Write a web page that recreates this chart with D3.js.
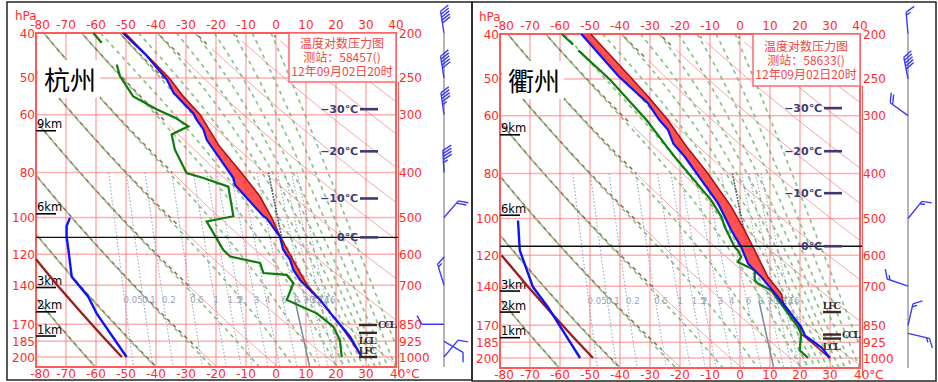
<!DOCTYPE html>
<html>
<head>
<meta charset="utf-8">
<script src="https://cdn.jsdelivr.net/npm/d3@7"></script>
<style>
  body { margin: 0; background: #fff; }
  svg { display: block; }
</style>
</head>
<body>
<svg id="chart" width="938" height="382"></svg>
<script>
// ---- axes ----
const tempTicks = [-80, -70, -60, -50, -40, -30, -20, -10, 0, 10, 20, 30, 40];
const pressLevels = [200, 250, 300, 400, 500, 600, 700, 850, 925, 1000];
const pressLeftLabels = ["40", "50", "60", "80", "100", "120", "140", "170", "185", "200"];
const mixRatios = [0.05, 0.1, 0.2, 0.5, 1, 1.5, 2, 3, 4, 6, 8, 10, 12, 14, 16];
const heightNames = ["9km", "6km", "3km", "2km", "1km"];
const isoNames = [-30, -20, -10, 0];

// ---- 杭州 58457 : [hPa, °C] ----
const hzTemp = [[200,-51],[224,-43.1],[252,-36.4],[269,-34.2],[298,-27.6],[308,-26.4],[323,-24.2],[340,-23.1],
  [411,-14.2],[425,-13.7],[497,-4.2],[502,-3.1],[550,1.3],[587,2.4],[617,4.7],[649,5.8],[682,8],[717,11.3],
  [753,14.7],[818,19.1],[904,24.7],[1000,28.6]];
const hzParcel = [[200,-50.3],[250,-35.6],[274,-30.9],[300,-25.3],[350,-19.0],[400,-11.6],[450,-5.4],[500,-1.5],
  [550,1.4],[600,4.6],[650,7.6],[700,10.4],[753,14.8],[800,17.8],[850,21.2],[925,25.2],[1000,28.6]];
const hzDew = [[200,-60.9],[210,-58.1],[222,null],[234,-53.1],[248,-52],[274,-47.6],[292,-39.8],[305,-33.5],
  [318,-29.2],[331,-34.8],[357,-33.7],[401,-29.8],[411,-24.2],[429,-15.9],[497,-14.2],[510,-23.1],[587,-17.6],
  [607,-15.3],[627,-5.3],[659,-4.2],[665,3.6],[693,5.8],[753,3.6],[805,13.6],[860,19.1],[919,21.3],[1000,21.9]];
const hzLeftBlue = [[501,-68.7],[522,-69.8],[550,-69.8],[587,-69.2],[671,-68.1],[741,-62.6],[805,-59.8],[1000,-49.8]];
const hzLeftRed = [[615,-80],[700,-72.9],[800,-65.1],[900,-58],[1000,-51.4]];
const hzHeightP = [325, 491, 708, 799, 901];
const hzIsoP = [292, 360, 455, 552];
const hzCapeBottom = 753;
const hzLevels = { CCL: 853, LCL: 887, LFC: 1000 };
const hzWindP = [200, 250, 300, 400, 500, 700, 850, 925, 1000];
const hzWindDir = [351, 351, 352, 357, 41, 343, 270, 120, 40];
const hzWindSpd = [20, 20, 18, 18, 8, 6, 4, 4, 4];

// ---- 衢州 58633 ----
const qzTemp = [[200,-52.9],[247,-40.4],[282,-30.7],[307,-26.8],[322,-24],[345,-22.2],[368,-18.4],[464,-7.3],
  [496,-5.1],[530,-2.9],[576,0.4],[626,2.7],[658,6],[669,7.1],[739,12.7],[760,14.1],[858,20.4],[894,21.6],
  [948,27.1],[1000,30]];
const qzParcel = [[200,-49.8],[247,-36.7],[276,-30],[307,-24],[350,-17.8],[400,-10.7],[472,-2.9],[530,1.5],
  [586,4.9],[669,9.3],[727,13.8],[760,14.4],[800,16.8],[858,20.0],[887,20.4],[925,23.9],[1000,29.8]];
const qzDew = [[200,-59.4],[211,-55.6],[214,null],[217,-53.9],[251,-43.3],[307,-31.1],[350,-24.4],[368,-21.8],
  [457,-9.6],[496,-6.2],[521,-5.1],[576,-1.8],[586,-0.7],[605,0.4],[621,-0.7],[636,2.7],[647,4.9],[680,4.9],
  [691,6],[715,10.4],[858,19.3],[887,20.4],[963,19.9],[1000,22.7]];
const qzLeftBlue = [[505,-74],[586,-73.4],[703,-69],[777,-64],[1000,-53.3]];
const qzLeftRed = [[600,-79.5],[700,-70.8],[800,-62.9],[900,-55.7],[1000,-49]];
const qzHeightP = [330, 492, 717, 796, 904];
const qzIsoP = [289, 358, 441, 574];
const qzCapeBottom = 760;
const qzLevels = { LFC: 796, CCL: 890, LCL: 908 };
const qzWindP = [200, 250, 300, 500, 700, 850, 885];
const qzWindDir = [355, 349, 306, 39, 289, 13, 103];
const qzWindSpd = [6, 20, 8, 6, 6, 6, 6];

const stations = [
  { name: "杭州", code: "58457", dx: 0, dy: 0, boxH: 49, temp: hzTemp, parcel: hzParcel, dew: hzDew,
    leftBlue: hzLeftBlue, leftRed: hzLeftRed, heights: hzHeightP, iso: hzIsoP, capeBottom: hzCapeBottom,
    levels: hzLevels, windP: hzWindP, windDir: hzWindDir, windSpd: hzWindSpd },
  { name: "衢州", code: "58633", dx: 464, dy: 1, boxH: 52, temp: qzTemp, parcel: qzParcel, dew: qzDew,
    leftBlue: qzLeftBlue, leftRed: qzLeftRed, heights: qzHeightP, iso: qzIsoP, capeBottom: qzCapeBottom,
    levels: qzLevels, windP: qzWindP, windDir: qzWindDir, windSpd: qzWindSpd }
];

const svg = d3.select("#chart");
const x = d3.scaleLinear().domain([-80, 40]).range([36, 396]);
const y = d3.scaleLog().domain([200, 1000]).range([33, 357]);
const plotTop = 33, plotBottom = 367;
const pBottom = y.invert(plotBottom);
const pSteps = d3.range(200, pBottom, 4).concat([pBottom]);

const RED = "#ff2b2b";
const sans = "'DejaVu Sans', Verdana, sans-serif";
const cjk = "'Noto Sans CJK SC', sans-serif";

// diagram background families (potential temperature at 200 hPa, K)
const dryThetas = d3.range(190, 521, 20);
const moistThetas = d3.range(190, 331, 20).concat(d3.range(340, 431, 10));

function satVap(tc) { return 6.112 * Math.exp(17.67 * tc / (tc + 243.5)); }
function moistLapse(p, T) {
  const es = satVap(T - 273.15);
  const rs = 0.622 * es / (p - es);
  return (287.04 * T + 2.501e6 * rs) / (p * (1005.7 + (2.501e6 * 2.501e6 * rs * 0.622) / (287.04 * T * T)));
}
function moistPath(th) {
  let T = th * Math.pow(0.2, 0.2857);
  const out = [[pSteps[0], T - 273.15]];
  for (let i = 1; i < pSteps.length; i++) {
    const p0 = pSteps[i - 1], dp = pSteps[i] - p0;
    const k1 = moistLapse(p0, T);
    const k2 = moistLapse(p0 + dp, T + k1 * dp);
    T += 0.5 * (k1 + k2) * dp;
    out.push([pSteps[i], T - 273.15]);
  }
  return out;
}
function tempForMix(w, p) {
  const e = w * p / (622 + w);
  const l = Math.log(e / 6.112);
  return 243.5 * l / (17.67 - l);
}

// outer frames
svg.append("rect").attr("x", 7).attr("y", 2).attr("width", 465).attr("height", 378)
  .attr("fill", "none").attr("stroke", "#222").attr("stroke-width", 1.5);
svg.append("rect").attr("x", 472).attr("y", 2).attr("width", 464).attr("height", 379)
  .attr("fill", "none").attr("stroke", "#222").attr("stroke-width", 1.5);

const line = d3.line().defined(d => d[1] !== null).x(d => x(d[1])).y(d => y(d[0]));

stations.forEach((st, si) => {
  const g = svg.append("g").attr("transform", `translate(${st.dx},${st.dy})`);
  const clipId = `clip${si}`;
  g.append("clipPath").attr("id", clipId).append("rect")
    .attr("x", x(-80)).attr("y", plotTop).attr("width", x(40) - x(-80)).attr("height", plotBottom - plotTop);
  const bg = g.append("g").attr("clip-path", `url(#${clipId})`);

  // isotherms and isobars
  bg.selectAll(".iso").data(tempTicks.slice(1, -1)).join("line")
    .attr("x1", d => x(d)).attr("x2", d => x(d)).attr("y1", plotTop).attr("y2", plotBottom)
    .attr("stroke", "#ff7a7a").attr("stroke-opacity", 0.6).attr("stroke-width", 1.5);
  bg.selectAll(".isob").data(pressLevels).join("line")
    .attr("x1", x(-80)).attr("x2", x(40)).attr("y1", d => y(d)).attr("y2", d => y(d))
    .attr("stroke", "#ff7a7a").attr("stroke-opacity", 0.6).attr("stroke-width", 1.5);

  // dry adiabats: brownish where they coincide with the moist adiabat, thin red elsewhere
  dryThetas.forEach(th => {
    const moist = moistPath(th);
    const pts = pSteps.map((p, i) => {
      const t = th * Math.pow(p / 1000, 0.2857) - 273.15;
      return [p, t, Math.abs(moist[i][1] - t) < 1.2];
    });
    bg.append("path").attr("d", d3.line().defined(d => !d[2]).x(d => x(d[1])).y(d => y(d[0]))(pts))
      .attr("fill", "none").attr("stroke", "#e86a6a").attr("stroke-width", 0.8).attr("stroke-opacity", 0.75);
    bg.append("path").attr("d", d3.line().defined(d => d[2]).x(d => x(d[1])).y(d => y(d[0]))(pts))
      .attr("fill", "none").attr("stroke", "#7f5f3c").attr("stroke-width", 1.7).attr("stroke-opacity", 0.85)
      .attr("stroke-dasharray", "4,4").attr("stroke-dashoffset", 4);
  });

  // moist adiabats
  moistThetas.forEach(th => {
    bg.append("path").attr("d", line(moistPath(th))).attr("fill", "none")
      .attr("stroke", "#6fb46f").attr("stroke-width", 1.7).attr("stroke-opacity", 0.8)
      .attr("stroke-dasharray", "4,4");
  });

  // mixing ratio lines
  mixRatios.forEach(w => {
    const pts = pSteps.filter(p => p >= 400).map(p => [p, tempForMix(w, p)]);
    bg.append("path").attr("d", line(pts)).attr("fill", "none")
      .attr("stroke", "#8a9ab5").attr("stroke-width", 1).attr("stroke-dasharray", "1.5,2");
    g.append("text").attr("x", x(tempForMix(w, 750)) - 1).attr("y", y(750) + 4)
      .attr("font-family", sans).attr("font-size", 8.5).attr("fill", "#9aa4b8").text(w);
  });
  // highlighted 8 g/kg line: dark dotted aloft, solid grey below 750 hPa
  bg.append("path").attr("d", line(pSteps.filter(p => p >= 400 && p <= 560).map(p => [p, tempForMix(8, p)])))
    .attr("fill", "none").attr("stroke", "#3f4f66").attr("stroke-width", 1.6).attr("stroke-dasharray", "1.5,1.5");
  bg.append("path").attr("d", line(pSteps.filter(p => p >= 755).map(p => [p, tempForMix(8, p)])))
    .attr("fill", "none").attr("stroke", "#7d8a9c").attr("stroke-width", 1.5);

  // plot frame
  g.append("rect").attr("x", x(-80)).attr("y", plotTop).attr("width", x(40) - x(-80))
    .attr("height", plotBottom - plotTop).attr("fill", "none").attr("stroke", "#ff5a5a").attr("stroke-width", 2);
  g.append("line").attr("x1", x(40) + 2.5).attr("x2", x(40) + 2.5).attr("y1", plotTop + st.boxH)
    .attr("y2", plotBottom + 8).attr("stroke", "#ff5a5a").attr("stroke-width", 1);

  // axis labels
  const lbl = g.append("g").attr("font-family", sans).attr("font-size", 12).attr("fill", RED);
  lbl.selectAll(".tt").data(tempTicks).join("text")
    .attr("x", d => Math.max(x(d), 40)).attr("y", 29).attr("text-anchor", "middle").text(d => d);
  lbl.selectAll(".tb").data(tempTicks).join("text")
    .attr("x", d => d === 40 ? x(d) - 6 : Math.max(x(d), 40)).attr("y", 378)
    .attr("text-anchor", d => d === 40 ? "start" : "middle").text(d => d === 40 ? "40°C" : d);
  lbl.append("text").attr("x", 15).attr("y", 20).text("hPa");
  lbl.selectAll(".pl").data(pressLevels).join("text")
    .attr("x", 35).attr("y", d => y(d) + 4.5).attr("text-anchor", "end").text((d, i) => pressLeftLabels[i]);
  lbl.selectAll(".pr").data(pressLevels).join("text")
    .attr("x", 399).attr("y", d => y(d) + 4.5).text(d => d);

  // station name
  g.append("rect").attr("x", 38).attr("y", 60).attr("width", 62).attr("height", 38).attr("fill", "#fff");
  g.append("text").attr("x", 44).attr("y", 90).attr("font-family", cjk).attr("font-size", 26)
    .attr("fill", "#000").text(st.name);

  // height marks
  st.heights.forEach((p, i) => {
    g.append("line").attr("x1", 36).attr("x2", 56).attr("y1", y(p)).attr("y2", y(p))
      .attr("stroke", "#000").attr("stroke-width", 1.6);
    g.append("text").attr("x", 37).attr("y", y(p) - 2.5).attr("font-family", sans)
      .attr("font-size", 11.5).attr("fill", "#000").text(heightNames[i]);
  });

  // CAPE area
  const capeTop = st.parcel.filter(d => d[0] <= st.capeBottom);
  const envTop = st.temp.filter(d => d[0] <= st.capeBottom).slice().reverse();
  g.append("path").attr("d", line(capeTop.concat(envTop)) + "Z")
    .attr("fill", "#ff4040").attr("fill-opacity", 0.9).attr("stroke", "none");

  // curves
  g.append("path").attr("d", line(st.leftRed)).attr("fill", "none").attr("stroke", "#9a1f1f").attr("stroke-width", 2.4);
  g.append("path").attr("d", line(st.leftBlue)).attr("fill", "none").attr("stroke", "#0a14ff").attr("stroke-width", 2.4);
  g.append("path").attr("d", line(st.parcel)).attr("fill", "none").attr("stroke", "#b01010").attr("stroke-width", 1.6);
  g.append("path").attr("d", line(st.dew)).attr("fill", "none").attr("stroke", "#0a7d0a").attr("stroke-width", 2.2);
  g.append("path").attr("d", line(st.temp)).attr("fill", "none").attr("stroke", "#0a14ff").attr("stroke-width", 2.2);

  // 0°C line
  g.append("line").attr("x1", x(-80)).attr("x2", x(40) + 2).attr("y1", y(st.iso[3])).attr("y2", y(st.iso[3]))
    .attr("stroke", "#111").attr("stroke-width", 1.4);

  // isotherm level marks
  st.iso.forEach((p, i) => {
    g.append("text").attr("x", 358).attr("y", y(p) + 4).attr("text-anchor", "end")
      .attr("font-family", sans).attr("font-size", 11).attr("font-weight", "bold")
      .attr("fill", "#3b3b78").text((isoNames[i] < 0 ? "−" + (-isoNames[i]) : isoNames[i]) + "℃");
    g.append("line").attr("x1", 360).attr("x2", 378).attr("y1", y(p)).attr("y2", y(p))
      .attr("stroke", "#3b3b78").attr("stroke-width", 2.6);
  });

  // CCL / LCL / LFC
  const lv = g.append("g").attr("font-family", "'Liberation Serif', 'DejaVu Serif', serif")
    .attr("font-size", 10.5).attr("font-weight", "bold").attr("fill", "#2a1f1f");
  Object.entries(st.levels).forEach(([k, p]) => {
    const yy = y(p);
    lv.append("line").attr("x1", 359).attr("x2", 377).attr("y1", yy).attr("y2", yy)
      .attr("stroke", "#3a2626").attr("stroke-width", 2.4);
    if (k === "CCL") lv.append("text").attr("x", 378).attr("y", yy + 3.5).attr("textLength", 19).text(k);
    if (k === "LCL") lv.append("text").attr("x", 359).attr("y", yy + 11).attr("textLength", 18).text(k);
    if (k === "LFC") lv.append("text").attr("x", 359).attr("y", yy - 3).attr("textLength", 18).text(k);
  });

  // title box
  g.append("rect").attr("x", 289).attr("y", plotTop).attr("width", 107).attr("height", st.boxH)
    .attr("fill", "#fff").attr("stroke", "#ff6a6a").attr("stroke-width", 1.5);
  const tb = g.append("g").attr("font-family", cjk).attr("font-size", 12).attr("fill", "#f04848")
    .attr("text-anchor", "middle");
  tb.append("text").attr("x", 342).attr("y", 48 + (st.boxH - 49) / 2).text("温度对数压力图");
  tb.append("text").attr("x", 342).attr("y", 62 + (st.boxH - 49) / 2).text("测站：" + st.code + "()");
  tb.append("text").attr("x", 342).attr("y", 76 + (st.boxH - 49) / 2).text("12年09月02日20时");

  // wind staff and barbs
  const sx = 444;
  g.append("line").attr("x1", sx).attr("x2", sx).attr("y1", plotTop).attr("y2", plotBottom)
    .attr("stroke", "#b4b4b4").attr("stroke-width", 2);
  st.windP.forEach((p, i) => {
    const a = st.windDir[i] * Math.PI / 180;
    const ux = Math.sin(a), uy = -Math.cos(a);
    const b = a + Math.PI / 3;
    const fx = Math.sin(b), fy = -Math.cos(b);
    const L = 22, fl = 10, gap = 3;
    const y0 = y(p);
    const tx = sx + ux * L, ty = y0 + uy * L;
    let d = `M${sx},${y0}L${tx},${ty}`;
    const full = Math.floor(st.windSpd[i] / 4), half = st.windSpd[i] % 4 >= 2;
    let pos = 0;
    for (let k = 0; k < full; k++) {
      const px = tx - ux * pos, py = ty - uy * pos;
      d += `M${px},${py}l${fx * fl},${fy * fl}`;
      pos += gap;
    }
    if (half) {
      const px = tx - ux * pos, py = ty - uy * pos;
      d += `M${px},${py}l${fx * fl / 2},${fy * fl / 2}`;
    }
    g.append("path").attr("d", d).attr("fill", "none").attr("stroke", "#3a3aff").attr("stroke-width", 1.4);
  });
});
</script>
</body>
</html>
